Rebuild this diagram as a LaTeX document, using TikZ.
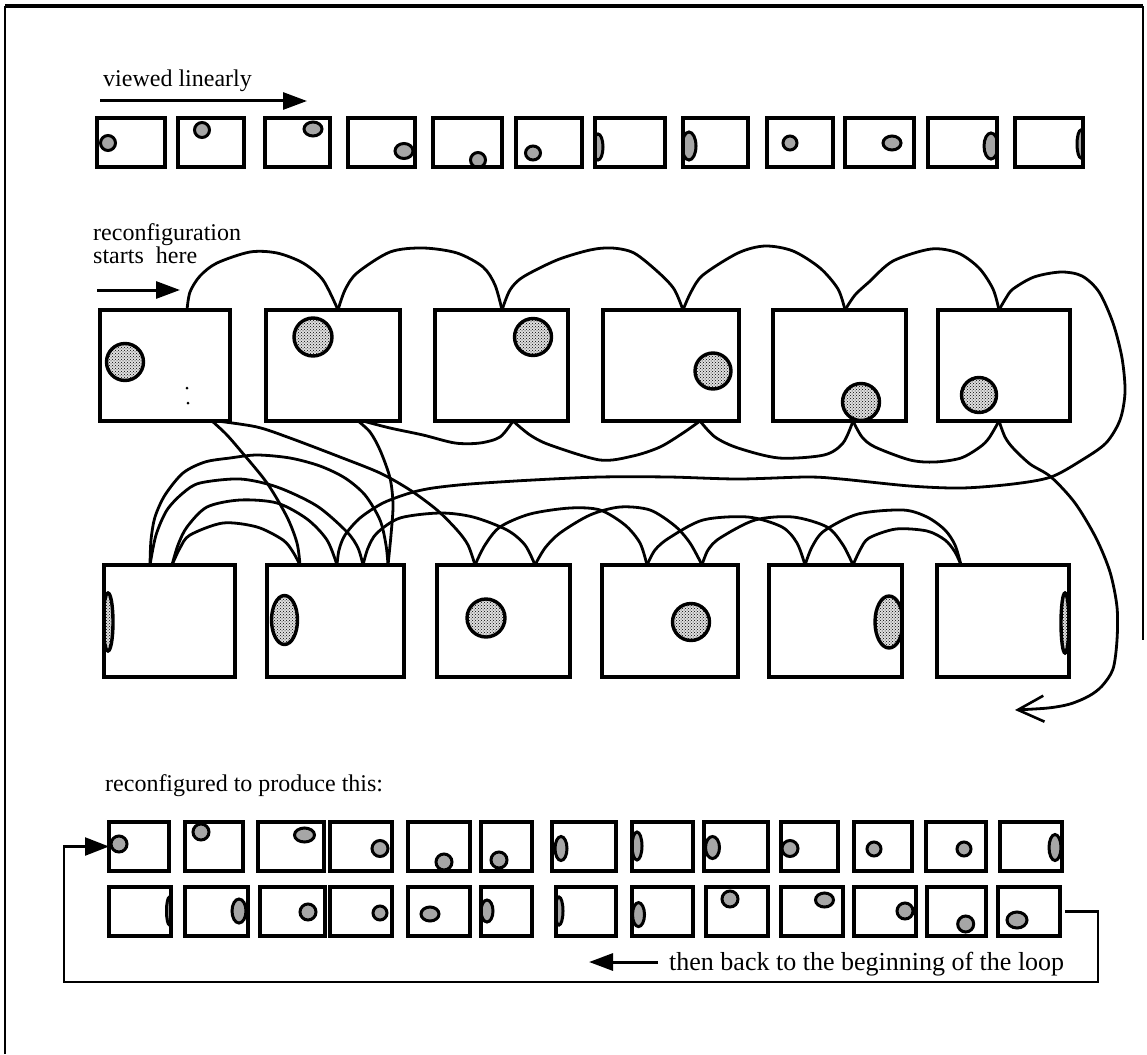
\documentclass[tikz,border=0pt]{standalone}
\usepackage{fontspec}
\setmainfont{Liberation Serif}
\usetikzlibrary{arrows.meta,patterns}
\pgfdeclarelayer{bg}
\pgfsetlayers{bg,main}
\newcommand\bxat[5]{\node[bx,minimum width=#4pt,minimum height=#5pt] (#1) at (#2,#3) {};}
\newcommand\blobin[6]{\begin{pgfonlayer}{bg}\begin{scope}\clip (#1.south west) rectangle (#1.north east);\fill[fill=gray!25] (#2,#3) ellipse [x radius=#4pt, y radius=#5pt];\filldraw[#6] (#2,#3) ellipse [x radius=#4pt, y radius=#5pt];\end{scope}\end{pgfonlayer}}
\begin{document}
\begin{tikzpicture}[x=1pt,y=-1pt,
  bx/.style={draw,line width=3.3pt,inner sep=0pt,outer sep=0pt},
  sm/.style={draw=black,line width=3pt,fill=gray!70},
  lg/.style={draw=black,line width=3.4pt,pattern=crosshatch dots,pattern color=black},
  crv/.style={line width=2.8pt,line cap=round,line join=round},
  lbl/.style={inner sep=0pt,anchor=base west,font=\fontsize{24}{26}\selectfont},
  arr/.style={line width=3pt,-{Triangle[length=24pt,width=17pt]}},
]
\useasboundingbox (0,0) rectangle (1147,1054);
% frame
\coordinate (f1) at (5,1054); \coordinate (f2) at (5,6); \coordinate (f3) at (1143,6); \coordinate (f4) at (1143,640);
\draw[line width=2.4pt] (f1) -- (f2);
\draw[line width=3.8pt] (f2) -- (f3);
\draw[line width=2.4pt] (f3) -- (f4);

% ---------- top row ----------
\node[lbl] (tv) at (103,87) {viewed linearly};
\coordinate (va0) at (100,101); \coordinate (va1) at (307,101);
\draw[arr] (va0) -- (va1);
\bxat{T1}{131}{142.5}{68}{49}
\bxat{T2}{211}{142.5}{66}{49}
\bxat{T3}{297.5}{142.5}{65}{49}
\bxat{T4}{381.5}{142.5}{67}{49}
\bxat{T5}{467.5}{142.5}{69}{49}
\bxat{T6}{549}{142.5}{66}{49}
\bxat{T7}{630}{142.5}{70}{49}
\bxat{T8}{715.5}{142.5}{65}{49}
\bxat{T9}{800}{142.5}{66}{49}
\bxat{T10}{879.5}{142.5}{69}{49}
\bxat{T11}{962.5}{142.5}{69}{49}
\bxat{T12}{1049}{142.5}{68}{49}
\blobin{T1}{108}{143}{7.5}{7.5}{sm}
\blobin{T2}{202}{130}{7.5}{7.5}{sm}
\blobin{T3}{313}{129}{9}{7}{sm}
\blobin{T4}{404}{151}{9}{7.5}{sm}
\blobin{T5}{478}{160}{7.5}{7.5}{sm}
\blobin{T6}{533}{153}{7.5}{7}{sm}
\blobin{T7}{598}{147}{5}{13}{sm}
\blobin{T8}{689}{146}{7}{14}{sm}
\blobin{T9}{790}{143}{7}{7}{sm}
\blobin{T10}{892}{143}{9}{7}{sm}
\blobin{T11}{991}{146}{7}{13}{sm}
\blobin{T12}{1081}{144}{4}{14}{sm}

% ---------- middle row ----------
\node[lbl] (tr1) at (93,240) {reconfiguration};
\node[lbl] (tr2) at (93,263) {starts\ \ here};
\coordinate (sa0) at (97,290); \coordinate (sa1) at (180,290);
\draw[arr] (sa0) -- (sa1);
\bxat{M1}{165}{365.5}{130}{111}
\bxat{M2}{333}{365.5}{134}{111}
\bxat{M3}{501.5}{365.5}{133}{111}
\bxat{M4}{671}{365.5}{136}{111}
\bxat{M5}{839.5}{365.5}{133}{111}
\bxat{M6}{1004}{365.5}{132}{111}
\blobin{M1}{125}{362}{18.5}{18.5}{lg}
\blobin{M2}{313}{337}{19}{19}{lg}
\blobin{M3}{533}{337}{18.5}{18.5}{lg}
\blobin{M4}{713}{371}{18}{18}{lg}
\blobin{M5}{861}{402}{18.5}{18.5}{lg}
\blobin{M6}{979}{395}{17.5}{17.5}{lg}
\fill (187,388) circle [radius=1.5pt];
\fill (188,403) circle [radius=1.5pt];

% ---------- lower row ----------
\bxat{L1}{169.5}{621}{131}{112}
\bxat{L2}{335.5}{621}{137}{112}
\bxat{L3}{503.5}{621}{133}{112}
\bxat{L4}{670}{621}{136}{112}
\bxat{L5}{835.5}{621}{133}{112}
\bxat{L6}{1003}{621}{132}{112}
\blobin{L1}{108}{622}{5}{29}{lg}
\blobin{L2}{284.5}{620}{13}{24.5}{lg}
\blobin{L3}{486}{618}{19}{19}{lg}
\blobin{L4}{691}{622}{18.5}{18.5}{lg}
\blobin{L5}{889}{622}{14}{26}{lg}
\blobin{L6}{1065}{623}{4}{30}{lg}

% ---------- connector end points ----------
\coordinate (s0) at (187,310); \coordinate (c2) at (338,310); \coordinate (c3) at (502,310);
\coordinate (c4) at (683,310); \coordinate (c5) at (845,310); \coordinate (c6) at (999,310);
\coordinate (b2) at (363,421); \coordinate (b3) at (513,421); \coordinate (b4) at (700,421);
\coordinate (b5) at (853,421); \coordinate (b6) at (999,421);
\coordinate (m1a) at (212,421); \coordinate (m1b) at (217,421); \coordinate (m2) at (358,421);
\coordinate (q1) at (150,565); \coordinate (q2) at (172,565); \coordinate (q3) at (300,565);
\coordinate (q4) at (337,565); \coordinate (q5) at (363,565); \coordinate (q6) at (388,565);
\coordinate (q7) at (475,565); \coordinate (q8) at (535,565); \coordinate (q9) at (647,565);
\coordinate (q10) at (702,565); \coordinate (q11) at (805,565); \coordinate (q12) at (853,565);
\coordinate (q13) at (961,565); \coordinate (ae) at (1015,710);

% top scallops and big loop
\draw[crv] plot[smooth] coordinates {(s0) (190,292) (200,276) (217,263) (250,252) (277,253) (303,263) (323,280) (c2)};
\draw[crv] plot[smooth] coordinates {(c2) (345,290) (357,273) (390,252) (423,248) (457,253) (483,267) (495,285) (c3)};
\draw[crv] plot[smooth] coordinates {(c3) (510,290) (523,277) (557,260) (590,250) (612,248) (634,253) (658,272) (674,289) (c4)};
\draw[crv] plot[smooth] coordinates {(c4) (691,292) (703,275) (738,253) (765,246) (793,251) (820,268) (838,289) (c5)};
\draw[crv] plot[smooth] coordinates {(c5) (855,295) (869,282) (893,261) (931,249) (958,253) (979,268) (993,289) (c6)};
\draw[crv] plot[smooth] coordinates {(c6) (1006,298) (1013,289) (1034,277) (1061,272) (1082,276) (1099,292) (1113,323) (1122,358) (1125,392) (1120,420) (1106,443) (1082,460) (1051,477) (1013,484) (962,488) (910,486) (841,479) (807,477) (738,479) (669,477) (600,477) (533,480) (470,484) (433,488) (410,493) (383,503) (360,518) (345,535) (339,550) (q4)};

% bottom scallops and return arrow
\draw[crv] plot[smooth] coordinates {(b2) (390,428) (423,435) (455,443) (480,443) (500,437) (b3)};
\draw[crv] plot[smooth] coordinates {(b3) (530,435) (550,445) (600,460) (633,456) (660,447) (683,433) (b4)};
\draw[crv] plot[smooth] coordinates {(b4) (715,437) (738,448) (779,458) (824,455) (843,443) (b5)};
\draw[crv] plot[smooth] coordinates {(b5) (862,437) (875,447) (910,460) (935,462) (961,458) (980,447) (989,438) (b6)};
\draw[crv,-{Straight Barb[length=26pt,width=26pt,line width=2.6pt]}] plot[smooth] coordinates {(b6) (1005,437) (1013,448) (1030,464) (1051,477) (1075,503) (1096,538) (1110,572) (1117,607) (1117,640) (1113,669) (1102,686) (1089,696) (1070,704) (1048,708) (ae)};

% middle to lower
\draw[crv] plot[smooth] coordinates {(m1a) (226,434) (240,450) (267,483) (287,517) (297,543) (q3)};
\draw[crv] plot[smooth] coordinates {(m1b) (257,427) (290,438) (340,457) (380,473) (410,490) (437,510) (457,530) (468,545) (q7)};
\draw[crv] plot[smooth] coordinates {(m2) (370,432) (380,450) (390,478) (393,505) (391,535) (q6)};

% arcs from the first lower box
\draw[crv] plot[smooth] coordinates {(q1) (151,540) (155,517) (165,495) (183,473) (205,462) (230,458) (257,455) (290,458) (320,466) (345,478) (365,495) (380,520) (386,545) (q6)};
\draw[crv] plot[smooth] coordinates {(q1) (156,535) (167,510) (183,493) (200,483) (240,479) (277,487) (317,506) (347,532) (358,548) (q5)};
\draw[crv] plot[smooth] coordinates {(q2) (178,545) (187,527) (207,507) (240,500) (277,503) (307,519) (327,540) (q4)};
\draw[crv] plot[smooth] coordinates {(q2) (180,548) (190,535) (223,523) (257,527) (283,540) (293,552) (q3)};

% braided arcs along the lower row
\draw[crv] plot[smooth] coordinates {(q5) (368,548) (377,533) (400,518) (440,513) (473,517) (507,530) (525,545) (q8)};
\draw[crv] plot[smooth] coordinates {(q7) (485,545) (500,527) (530,514) (570,508) (600,510) (625,525) (640,543) (q9)};
\draw[crv] plot[smooth] coordinates {(q8) (545,548) (560,533) (590,515) (620,507) (650,510) (675,526) (690,543) (q10)};
\draw[crv] plot[smooth] coordinates {(q9) (655,550) (669,538) (703,520) (748,517) (782,527) (797,543) (q11)};
\draw[crv] plot[smooth] coordinates {(q10) (708,550) (720,538) (755,520) (793,517) (827,527) (843,545) (q12)};
\draw[crv] plot[smooth] coordinates {(q11) (812,547) (824,531) (858,514) (903,510) (927,517) (945,530) (955,545) (q13)};
\draw[crv] plot[smooth] coordinates {(q12) (860,550) (869,538) (896,529) (927,531) (945,540) (955,552) (q13)};

% ---------- reconfigured rows ----------
\node[lbl] (tp) at (105,791) {reconfigured to produce this:};
\bxat{A1}{139}{846.5}{60}{49}
\bxat{A2}{214}{846.5}{58}{49}
\bxat{A3}{291}{846.5}{66}{49}
\bxat{A4}{361}{846.5}{62}{49}
\bxat{A5}{439}{846.5}{62}{49}
\bxat{A6}{506.5}{846.5}{51}{49}
\bxat{A7}{584}{846.5}{64}{49}
\bxat{A8}{662.5}{846.5}{61}{49}
\bxat{A9}{736}{846.5}{64}{49}
\bxat{A10}{809.5}{846.5}{57}{49}
\bxat{A11}{883}{846.5}{58}{49}
\bxat{A12}{956}{846.5}{60}{49}
\bxat{A13}{1031}{846.5}{62}{49}
\blobin{A1}{119}{844}{8}{8}{sm}
\blobin{A2}{201}{832}{8}{8}{sm}
\blobin{A3}{304.5}{835}{10}{7}{sm}
\blobin{A4}{380}{848.5}{8}{8}{sm}
\blobin{A5}{444}{862}{8}{8}{sm}
\blobin{A6}{499}{860}{8}{8}{sm}
\blobin{A7}{561}{848.5}{6}{12}{sm}
\blobin{A8}{637}{846}{5}{14}{sm}
\blobin{A9}{712.5}{847.5}{7}{11}{sm}
\blobin{A10}{790}{848.5}{8}{8}{sm}
\blobin{A11}{874}{849}{7}{7}{sm}
\blobin{A12}{964}{849}{7}{7}{sm}
\blobin{A13}{1055}{847.5}{6}{13}{sm}

\bxat{B1}{140}{911.5}{62}{49}
\bxat{B2}{216.5}{911.5}{63}{49}
\bxat{B3}{292.5}{911.5}{65}{49}
\bxat{B4}{361}{911.5}{62}{49}
\bxat{B5}{439}{911.5}{62}{49}
\bxat{B6}{506.5}{911.5}{51}{49}
\bxat{B7}{586}{911.5}{60}{49}
\bxat{B8}{662.5}{911.5}{61}{49}
\bxat{B9}{737}{911.5}{62}{49}
\bxat{B10}{812}{911.5}{62}{49}
\bxat{B11}{885}{911.5}{62}{49}
\bxat{B12}{956.5}{911.5}{59}{49}
\bxat{B13}{1029}{911.5}{62}{49}
\blobin{B1}{169.5}{911}{3}{14}{sm}
\blobin{B2}{239}{911}{7}{12}{sm}
\blobin{B3}{308}{912}{8}{8}{sm}
\blobin{B4}{380}{913}{7}{7}{sm}
\blobin{B5}{430}{914}{9}{7}{sm}
\blobin{B6}{487}{911}{6}{11}{sm}
\blobin{B7}{559}{911}{4}{14}{sm}
\blobin{B8}{638.5}{914.6}{6}{12}{sm}
\blobin{B9}{730}{899}{8}{8}{sm}
\blobin{B10}{824.5}{900}{9}{7}{sm}
\blobin{B11}{905}{911}{8}{8}{sm}
\blobin{B12}{965.7}{924}{8}{8}{sm}
\blobin{B13}{1017}{920}{10}{8}{sm}

% loop back
\coordinate (lr) at (1098,982); \coordinate (ll) at (64,982);
\draw[line width=2.4pt,-{Triangle[length=24pt,width=18pt]}] ([xshift=5pt]B13.east) -- (B13.east -| lr) -- (lr) -- (ll) -- (ll |- A1.west) -- (A1.west);
\node[lbl,font=\fontsize{26}{28}\selectfont] (tb) at (669,970) {then back to the beginning of the loop};
\coordinate (tb0) at (658,962); \coordinate (tb1) at (589,962);
\draw[arr] (tb0) -- (tb1);
\end{tikzpicture}
\end{document}
